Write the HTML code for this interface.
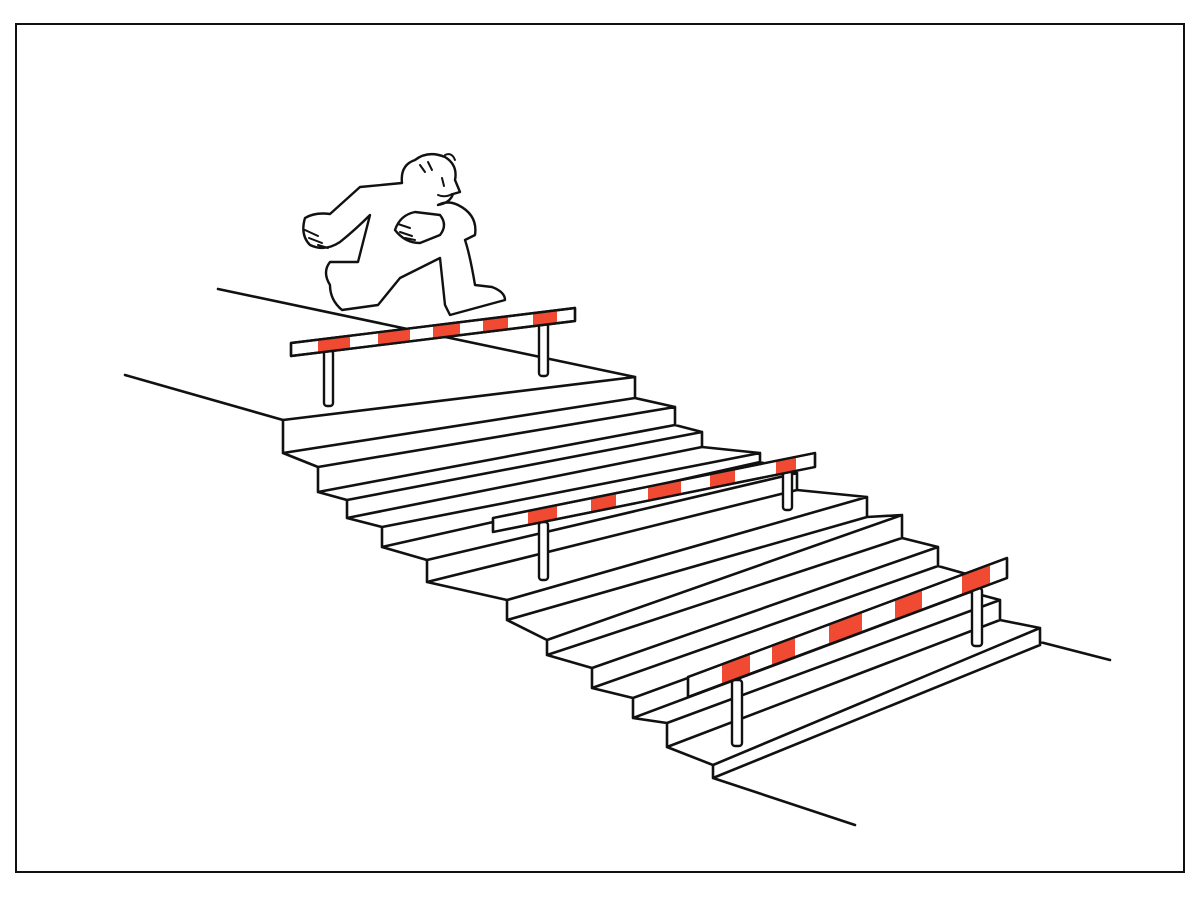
<!DOCTYPE html>
<html><head><meta charset="utf-8"><style>html,body{margin:0;padding:0;background:#fff}svg{display:block}</style></head>
<body>
<svg width="1200" height="898" viewBox="0 0 1200 898" xmlns="http://www.w3.org/2000/svg">
<rect x="0" y="0" width="1200" height="898" fill="#fff"/>
<rect x="16" y="24" width="1168" height="848" fill="none" stroke="#111" stroke-width="2"/>
<g fill="none" stroke="#111" stroke-width="2.6" stroke-linejoin="round" stroke-linecap="round">
<path d="M218 289 L635 377"/>
<path d="M125 375 L283 420"/>
<path d="M283 420L635 377L635 398 M283 420L283 453L635 398 M283 453L318 467 M635 398L675 407
M318 467L675 407L675 425 M318 467L318 492L675 425 M318 492L347 500 M675 425L702 432
M347 500L702 432L702 447 M347 500L347 518L702 447 M347 518L382 527 M702 447L760 453
M382 527L760 453L760 462 M382 527L382 547L760 462 M382 547L427 560 M760 462L797 473
M427 560L797 473L797 490 M427 560L427 582L797 490 M427 582L507 600 M797 490L867 497
M507 600L867 497L867 517 M507 600L507 620L867 517 M507 620L547 640 M867 517L902 515
M547 640L902 515L902 538 M547 640L547 655L902 538 M547 655L592 668 M902 538L938 547
M592 668L938 547L938 566 M592 668L592 688L938 566 M592 688L633 698 M938 566L970 575
M633 698L970 575L970 592 M633 698L633 718L970 592 M633 718L667 723 M970 592L1000 600
M667 723L1000 600L1000 620 M667 723L667 747L1000 620 M667 747L713 765 M1000 620L1040 628
M713 765L1040 628L1040 645 M713 765L713 778L1040 645
M713 778 L855 825 M1040 642 L1110 660"/>
</g>
<g stroke="#111" stroke-width="2.4" stroke-linejoin="round">
<rect x="324" y="350" width="9" height="56" rx="3" fill="#fff"/>
<rect x="539" y="320" width="9" height="56" rx="3" fill="#fff"/>
<polygon points="291,343 575,308 575,321 291,356" fill="#fff"/>
<g fill="#f04a33" stroke="none">
<polygon points="318,340 350,336 350,349 318,353"/>
<polygon points="378,333 410,329 410,342 378,346"/>
<polygon points="433,326 460,323 460,336 433,339"/>
<polygon points="483,320 508,317 508,330 483,333"/>
<polygon points="533,314 557,311 557,324 533,327"/>
</g>
<polygon points="291,343 575,308 575,321 291,356" fill="none"/>
<rect x="539" y="522" width="9" height="58" rx="3" fill="#fff"/>
<rect x="783" y="465" width="9" height="45" rx="3" fill="#fff"/>
<polygon points="493,518 815,453 815,467 493,532" fill="#fff"/>
<g fill="#f04a33" stroke="none">
<polygon points="528,511 557,505 557,519 528,525"/>
<polygon points="591,498 616,493 616,507 591,512"/>
<polygon points="648,487 681,480 681,494 648,501"/>
<polygon points="710,474 735,469 735,483 710,488"/>
<polygon points="776,461 796,457 796,471 776,475"/>
</g>
<polygon points="493,518 815,453 815,467 493,532" fill="none"/>
<rect x="732" y="680" width="10" height="66" rx="3" fill="#fff"/>
<rect x="972" y="588" width="10" height="58" rx="3" fill="#fff"/>
<polygon points="688,677 1007,558 1007,578 688,697" fill="#fff"/>
<g fill="#f04a33" stroke="none">
<polygon points="722,664 750,654 750,674 722,684"/>
<polygon points="772,645 795,637 795,657 772,665"/>
<polygon points="829,624 862,612 862,632 829,644"/>
<polygon points="895,600 922,590 922,610 895,620"/>
<polygon points="962,575 990,564 990,584 962,595"/>
</g>
<polygon points="688,677 1007,558 1007,578 688,697" fill="none"/>
</g>
<g fill="#fff" stroke="#111" stroke-width="2.4" stroke-linejoin="round" stroke-linecap="round">
<path d="M360 187 L402 183 Q400 165 415 160 Q428 150 445 157 Q458 165 455 180 L460 192 L453 194 Q450 203 438 205 Q448 200 458 205 Q478 215 475 235 L465 240 Q470 255 475 285 L492 287 Q505 292 505 300 L450 315 L445 305 L440 258 L400 278 L378 305 L342 310 Q330 300 330 285 Q322 272 330 262 L358 262 L370 215 Q355 230 340 242 Q325 252 310 245 Q300 235 305 218 Q315 212 330 214 Z"/>
<path d="M395 230 Q400 215 415 212 L440 215 Q448 225 440 235 L420 243 Q405 243 395 230 Z"/>
</g>
<g fill="none" stroke="#111" stroke-width="2" stroke-linecap="round">
<path d="M305 230 L318 236 M309 238 L322 243 M318 245 L328 248"/>
<path d="M398 224 L410 228 M400 232 L412 236 M405 238 L415 240"/>
<path d="M420 165 L425 172 M428 162 L432 170"/>
<path d="M442 178 L444 186"/>
<path d="M438 195 Q445 198 452 194"/>
<path d="M445 155 Q452 152 455 160"/>
</g>
</svg>
</body></html>
